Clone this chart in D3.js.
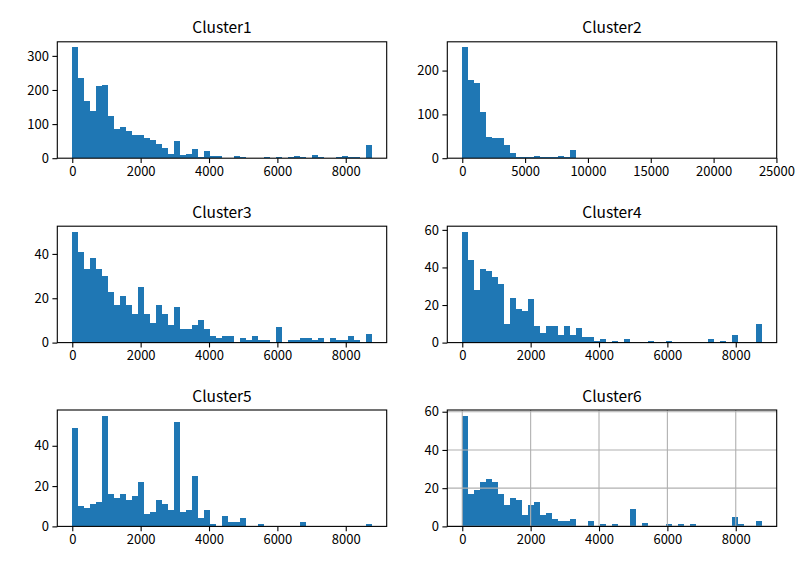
<!DOCTYPE html>
<html>
<head>
<meta charset="utf-8">
<script src="https://cdn.jsdelivr.net/npm/d3@7"></script>
<style>
  body { margin: 0; background: #fff; }
  svg { display: block; }
</style>
</head>
<body>
<script>
// histogram counts, 50 equal bins per cluster
const clusters = ["Cluster1", "Cluster2", "Cluster3", "Cluster4", "Cluster5", "Cluster6"];
const rangeMax = [8760, 23830, 8760, 8760, 8760, 8760];

const counts1 = [325, 235, 167, 138, 212, 215, 125, 86, 91, 80,
                 68, 68, 60, 54, 43, 30, 13, 51, 10, 13,
                 27, 4, 21, 6, 6, 0, 0, 6, 3, 0,
                 0, 0, 3, 0, 3, 0, 3, 6, 3, 0,
                 10, 3, 0, 0, 3, 6, 3, 3, 0, 39];
const counts2 = [253, 178, 171, 105, 48, 45, 46, 30, 12, 3,
                 3, 3, 5, 3, 3, 3, 5, 3, 19, 0,
                 0, 0, 0, 0, 0, 0, 0, 0, 0, 0,
                 0, 0, 0, 0, 0, 0, 0, 0, 0, 0,
                 0, 0, 0, 0, 0, 0, 0, 0, 0, 1];
const counts3 = [50, 41, 33, 38, 33, 30, 23, 17, 21, 17,
                 13, 25, 13, 9, 17, 13, 8, 16, 6, 6,
                 8, 10, 6, 3, 2, 3, 3, 0, 2, 1,
                 3, 1, 1, 0, 7, 0, 1, 1, 2, 2,
                 1, 2, 0, 2, 1, 1, 3, 1, 0, 4];
const counts4 = [59, 44, 28, 39, 38, 35, 31, 10, 24, 18,
                 17, 23, 9, 5, 9, 9, 4, 9, 4, 8,
                 3, 3, 1, 2, 0, 1, 0, 2, 0, 0,
                 0, 1, 0, 0, 1, 0, 0, 0, 0, 0,
                 0, 2, 0, 1, 0, 4, 0, 0, 0, 10];
const counts5 = [49, 10, 9, 11, 12, 55, 16, 14, 16, 13,
                 15, 22, 6, 7, 13, 11, 8, 52, 7, 8,
                 25, 4, 8, 1, 0, 5, 2, 2, 4, 0,
                 0, 1, 0, 0, 0, 0, 0, 0, 2, 0,
                 0, 0, 0, 0, 0, 0, 0, 0, 0, 1];
const counts6 = [58, 17, 19, 23, 25, 23, 17, 11, 15, 14,
                 6, 11, 13, 6, 7, 4, 3, 3, 4, 0,
                 0, 3, 0, 1, 0, 1, 0, 0, 9, 0,
                 2, 0, 0, 0, 1, 0, 1, 0, 1, 0,
                 0, 0, 0, 0, 0, 5, 1, 0, 0, 3];
const allCounts = [counts1, counts2, counts3, counts4, counts5, counts6];

const xTicksShort = [0, 2000, 4000, 6000, 8000];
const xTicksLong = [0, 5000, 10000, 15000, 20000, 25000];
const yTicks = [[0, 100, 200, 300], [0, 100, 200], [0, 20, 40],
                [0, 20, 40, 60], [0, 20, 40], [0, 20, 40, 60]];
const gridOn = [false, false, false, false, false, true];

const W = 800, H = 570;
const colX = [57.3, 447.3];
const rowY = [41.8, 226.2, 410];
const axW = 329.4, axH = 116.4;
const font = "'Noto Sans CJK SC', 'DejaVu Sans', sans-serif";

const svg = d3.select("body").append("svg")
    .attr("width", W)
    .attr("height", H);

clusters.forEach((name, k) => {
    const x0 = colX[k % 2], y0 = rowY[Math.floor(k / 2)];
    const counts = allCounts[k];
    const n = counts.length;
    const step = rangeMax[k] / n;
    const bins = counts.map((c, i) => ({ lo: i * step, hi: (i + 1) * step, c: c }));

    const x = d3.scaleLinear()
        .domain([-0.05 * rangeMax[k], 1.05 * rangeMax[k]])
        .range([x0, x0 + axW]);
    const y = d3.scaleLinear()
        .domain([0, d3.max(counts) * 1.05])
        .range([y0 + axH, y0]);

    const g = svg.append("g");

    // bars
    g.append("g")
        .selectAll("rect")
        .data(bins.filter(d => d.c > 0))
        .join("rect")
        .attr("x", d => x(d.lo))
        .attr("width", d => x(d.hi) - x(d.lo))
        .attr("y", d => y(d.c))
        .attr("height", d => y(0) - y(d.c))
        .attr("fill", "#1f77b4")
        .attr("shape-rendering", "crispEdges");

    const xt = k === 1 ? xTicksLong : xTicksShort;

    // grid (only last panel)
    if (gridOn[k]) {
        const gg = g.append("g").attr("stroke", "#b0b0b0").attr("stroke-width", 1.1);
        gg.selectAll(".gx").data(xt.filter(v => x(v) <= x0 + axW))
            .join("line")
            .attr("x1", d => x(d)).attr("x2", d => x(d))
            .attr("y1", y0).attr("y2", y0 + axH);
        gg.selectAll(".gy").data(yTicks[k])
            .join("line")
            .attr("x1", x0).attr("x2", x0 + axW)
            .attr("y1", d => y(d)).attr("y2", d => y(d));
    }

    // axes
    const ax = g.append("g")
        .attr("transform", `translate(0,${y0 + axH})`)
        .call(d3.axisBottom(x).tickValues(xt).tickSize(4.9).tickPadding(3.5).tickFormat(d3.format("d")));
    const ay = g.append("g")
        .attr("transform", `translate(${x0},0)`)
        .call(d3.axisLeft(y).tickValues(yTicks[k]).tickSize(4.9).tickPadding(3.5).tickFormat(d3.format("d")));
    [ax, ay].forEach(a => {
        a.select(".domain").remove();
        a.selectAll(".tick line").attr("stroke", "#000").attr("stroke-width", 1.1);
        a.selectAll(".tick text")
            .attr("fill", "#000")
            .style("font-family", font)
            .style("font-size", "13px");
    });

    // frame
    g.append("rect")
        .attr("x", x0).attr("y", y0)
        .attr("width", axW).attr("height", axH)
        .attr("fill", "none")
        .attr("stroke", "#000")
        .attr("stroke-width", 1.1);

    // title
    g.append("text")
        .attr("x", x0 + axW / 2)
        .attr("y", y0 - 8.5)
        .attr("text-anchor", "middle")
        .style("font-family", font)
        .style("font-size", "15.5px")
        .text(name);
});
</script>
</body>
</html>
